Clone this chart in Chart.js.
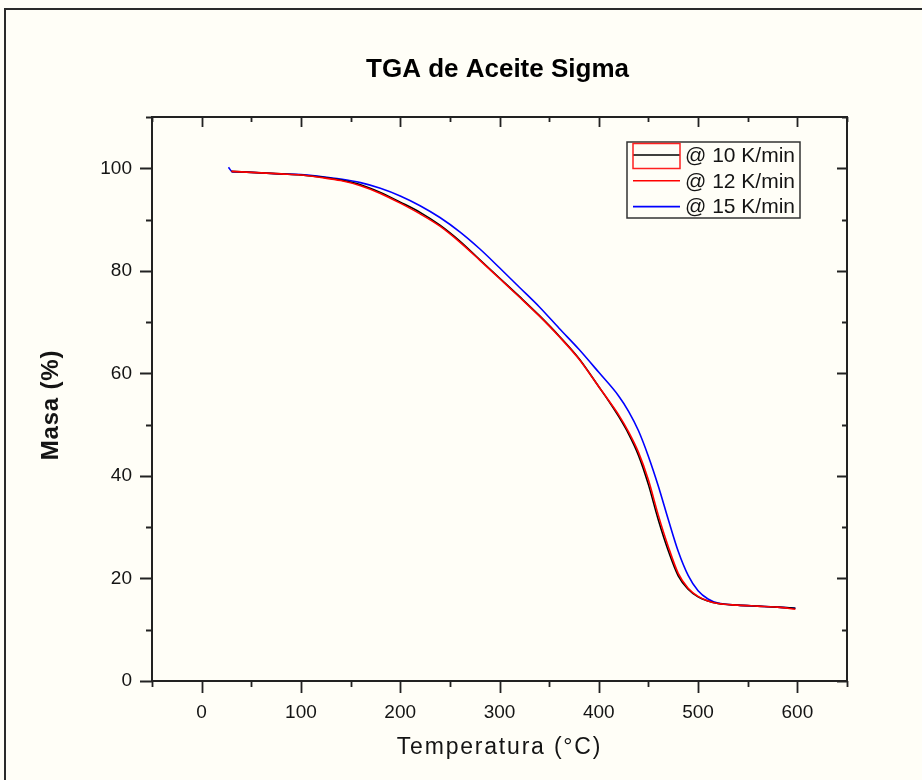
<!DOCTYPE html>
<html>
<head>
<meta charset="utf-8">
<script src="https://cdn.jsdelivr.net/npm/chart.js@4.4.1/dist/chart.umd.min.js"></script>
<style>
  html, body { margin: 0; padding: 0; background: #fffef7; }
  canvas { display: block; }
</style>
</head>
<body>
<canvas id="c" width="922" height="780"></canvas>
<script>
// ---- text ----
const TITLE = 'TGA de Aceite Sigma';
const X_TITLE = 'Temperatura (°C)';
const Y_TITLE = 'Masa (%)';
const SERIES_LABELS = ['@ 10 K/min', '@ 12 K/min', '@ 15 K/min'];

// ---- ticks ----
const X_TICKS = [0, 100, 200, 300, 400, 500, 600];
const X_MINOR = [-50, 50, 150, 250, 350, 450, 550, 650];
const Y_TICKS = [0, 20, 40, 60, 80, 100];
const Y_MINOR = [10, 30, 50, 70, 90, 110];

// ---- series: 10 K/min ----
const T_10 = [30, 40, 60, 80, 100, 120, 140, 160, 180, 200, 220, 240, 260, 280, 300, 320, 340, 360, 380, 400, 410, 420, 430, 440, 450, 460, 470, 480, 490, 500, 510, 520, 540, 560, 580, 598];
const M_10 = [99.4, 99.3, 99.1, 98.9, 98.7, 98.3, 97.7, 96.8, 95.3, 93.4, 91.4, 88.9, 85.8, 82.2, 78.6, 75.0, 71.3, 67.3, 62.9, 57.4, 54.6, 51.6, 48.2, 44.0, 38.3, 31.4, 25.4, 20.5, 17.9, 16.4, 15.6, 15.1, 14.8, 14.6, 14.4, 14.2];

// ---- series: 12 K/min ----
const T_12 = [30, 40, 60, 80, 100, 120, 140, 160, 180, 200, 220, 240, 260, 280, 300, 320, 340, 360, 380, 400, 410, 420, 430, 440, 450, 460, 470, 480, 490, 500, 510, 520, 540, 560, 580, 598];
const M_12 = [99.4, 99.3, 99.1, 98.9, 98.7, 98.2, 97.6, 96.6, 95.1, 93.2, 91.1, 88.7, 85.6, 82.1, 78.5, 74.9, 71.2, 67.2, 62.8, 57.4, 54.7, 51.9, 48.6, 44.6, 39.2, 32.3, 26.2, 21.0, 18.1, 16.5, 15.6, 15.1, 14.8, 14.6, 14.4, 14.0];

// ---- series: 15 K/min ----
const T_15 = [27, 31, 40, 60, 80, 100, 120, 140, 160, 180, 200, 220, 240, 260, 280, 300, 320, 340, 360, 380, 400, 420, 430, 440, 450, 460, 470, 480, 490, 500, 510, 520, 540, 560, 580, 598];
const M_15 = [100.2, 99.3, 99.3, 99.1, 98.9, 98.8, 98.4, 97.9, 97.2, 96.1, 94.6, 92.7, 90.4, 87.6, 84.3, 80.6, 76.8, 73.0, 68.8, 64.7, 60.2, 55.6, 52.6, 48.8, 43.8, 38.0, 31.5, 25.3, 20.6, 17.6, 16.0, 15.2, 14.8, 14.6, 14.4, 14.2];

const BG = '#fffef7';
const INK = '#141414';
const FONT = '"Liberation Sans", Arial, sans-serif';

const toPoints = (xs, ys) => xs.map((x, i) => ({ x: x, y: ys[i] }));

const backgroundPlugin = {
  id: 'bg',
  beforeDraw(chart) {
    const c = chart.ctx;
    c.save();
    c.fillStyle = BG;
    c.fillRect(0, 0, chart.width, chart.height);
    c.strokeStyle = '#2a2a2a';
    c.lineWidth = 2;
    c.beginPath();
    c.moveTo(5, chart.height + 5);
    c.lineTo(5, 9);
    c.lineTo(chart.width + 5, 9);
    c.stroke();
    c.restore();
  }
};

const framePlugin = {
  id: 'frame',
  afterDatasetsDraw(chart) {
    const c = chart.ctx;
    const a = chart.chartArea;
    const xs = chart.scales.x, ys = chart.scales.y;
    c.save();
    c.strokeStyle = '#222';
    c.lineWidth = 1.8;
    c.beginPath();
    X_TICKS.forEach(v => {
      const p = Math.round(xs.getPixelForValue(v)) + 0.5;
      c.moveTo(p, a.bottom); c.lineTo(p, a.bottom + 12);
      c.moveTo(p, a.top); c.lineTo(p, a.top + 10);
    });
    X_MINOR.forEach(v => {
      const p = Math.round(xs.getPixelForValue(v)) + 0.5;
      c.moveTo(p, a.bottom); c.lineTo(p, a.bottom + 6);
      c.moveTo(p, a.top); c.lineTo(p, a.top + 5);
    });
    Y_TICKS.forEach(v => {
      const p = Math.round(ys.getPixelForValue(v)) + 0.5;
      c.moveTo(a.left, p); c.lineTo(a.left - 12, p);
      c.moveTo(a.right, p); c.lineTo(a.right - 10, p);
    });
    Y_MINOR.forEach(v => {
      const p = Math.round(ys.getPixelForValue(v)) + 0.5;
      c.moveTo(a.left, p); c.lineTo(a.left - 6, p);
      c.moveTo(a.right, p); c.lineTo(a.right - 5, p);
    });
    c.stroke();
    c.lineWidth = 2;
    c.strokeRect(a.left, a.top, a.right - a.left, a.bottom - a.top);
    c.restore();
  }
};

const titlesPlugin = {
  id: 'titles',
  afterDraw(chart) {
    const c = chart.ctx;
    const a = chart.chartArea;
    const cx = (a.left + a.right) / 2;
    c.save();
    c.textAlign = 'center';
    c.textBaseline = 'middle';
    // chart title
    c.fillStyle = '#000';
    c.font = 'bold 26px ' + FONT;
    c.fillText(TITLE, cx - 2, 70);
    // x axis title
    c.fillStyle = INK;
    c.font = '23px ' + FONT;
    c.letterSpacing = '1.8px';
    c.fillText(X_TITLE, cx, 748);
    // y axis title
    c.font = 'bold 24px ' + FONT;
    c.letterSpacing = '0.8px';
    c.translate(51, (a.top + a.bottom) / 2 + 6);
    c.rotate(-Math.PI / 2);
    c.fillText(Y_TITLE, 0, 0);
    c.restore();
  }
};

const boxLegendPlugin = {
  id: 'boxLegend',
  afterDraw(chart) {
    const c = chart.ctx;
    const a = chart.chartArea;
    const x0 = a.right - 220, y0 = a.top + 25, w = 173, h = 76, rowH = 25.8;
    c.save();
    c.fillStyle = BG;
    c.fillRect(x0, y0, w, h);
    c.strokeStyle = '#333';
    c.lineWidth = 1.5;
    c.strokeRect(x0, y0, w, h);
    c.font = '21px ' + FONT;
    c.textBaseline = 'middle';
    c.textAlign = 'left';
    chart.data.datasets.forEach((ds, i) => {
      const y = y0 + 13 + i * rowH;
      c.strokeStyle = ds.borderColor;
      c.lineWidth = 1.6;
      c.beginPath();
      c.moveTo(x0 + 6, y); c.lineTo(x0 + 53, y);
      c.stroke();
      c.fillStyle = INK;
      c.fillText(ds.label, x0 + 58, y + 1);
    });
    c.strokeStyle = '#ff2020';
    c.lineWidth = 1.5;
    c.strokeRect(x0 + 6, y0 + 1.5, 47, 25);
    c.restore();
  }
};

const lineStyle = (color, order) => ({
  borderColor: color, backgroundColor: color, showLine: true, pointRadius: 0,
  borderWidth: 1.6, tension: 0.4, cubicInterpolationMode: 'monotone', fill: false, order: order
});

new Chart(document.getElementById('c'), {
  type: 'scatter',
  data: {
    datasets: [
      Object.assign({ label: SERIES_LABELS[0], data: toPoints(T_10, M_10) }, lineStyle('#000000', 2)),
      Object.assign({ label: SERIES_LABELS[1], data: toPoints(T_12, M_12) }, lineStyle('#ff0000', 1)),
      Object.assign({ label: SERIES_LABELS[2], data: toPoints(T_15, M_15) }, lineStyle('#0000ff', 3))
    ]
  },
  options: {
    responsive: false,
    animation: false,
    devicePixelRatio: 1,
    layout: { padding: { top: 117, right: 75, bottom: 0, left: 0 } },
    plugins: {
      legend: { display: false },
      tooltip: { enabled: false },
      title: { display: false }
    },
    scales: {
      x: {
        type: 'linear', min: -50, max: 650,
        afterBuildTicks: s => { s.ticks = X_TICKS.map(v => ({ value: v })); },
        afterFit: s => { s.height = 99; },
        grid: { display: false, drawTicks: false },
        border: { display: false },
        ticks: { padding: 20, color: INK, maxRotation: 0, autoSkip: false, font: { family: FONT, size: 19 } },
        title: { display: false }
      },
      y: {
        type: 'linear', min: 0, max: 110,
        afterBuildTicks: s => { s.ticks = Y_TICKS.map(v => ({ value: v })); },
        afterFit: s => { s.width = 152; },
        grid: { display: false, drawTicks: false },
        border: { display: false },
        ticks: { padding: 20, color: INK, autoSkip: false, font: { family: FONT, size: 19 } },
        title: { display: false }
      }
    }
  },
  plugins: [backgroundPlugin, framePlugin, titlesPlugin, boxLegendPlugin]
});
</script>
</body>
</html>
